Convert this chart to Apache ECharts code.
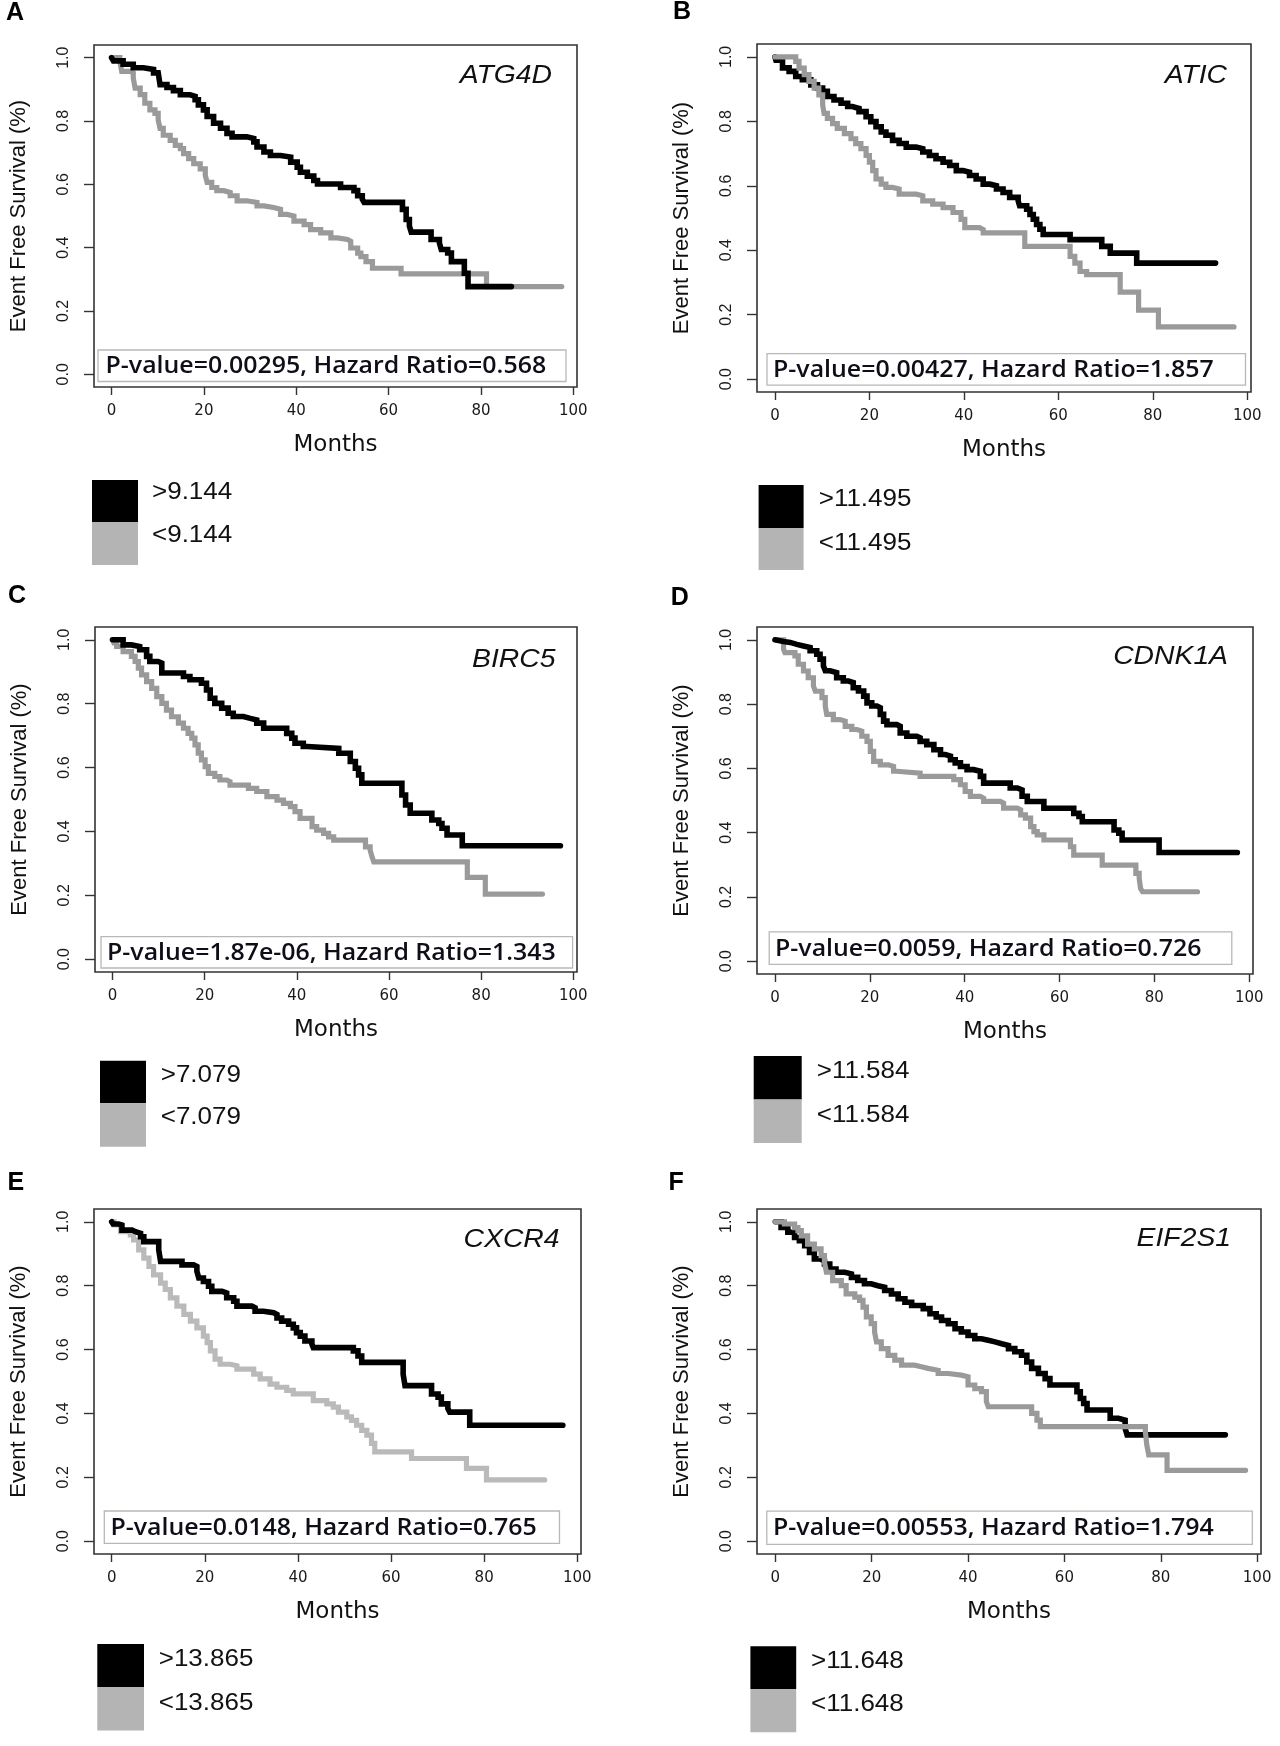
<!DOCTYPE html>
<html><head><meta charset="utf-8">
<script src="https://cdn.jsdelivr.net/npm/echarts@6/dist/echarts.min.js"></script>
<style>html,body{margin:0;padding:0;background:#fff}#chart{width:1280px;height:1746px}</style>
</head><body><div id="chart"></div>
<script>
// ---------------- data ----------------
const panelLetters = ['A', 'B', 'C', 'D', 'E', 'F'];
const genes = ['ATG4D', 'ATIC', 'BIRC5', 'CDNK1A', 'CXCR4', 'EIF2S1'];
const pValues = ['0.00295', '0.00427', '1.87e-06', '0.0059', '0.0148', '0.00553'];
const hazardRatios = ['0.568', '1.857', '1.343', '0.726', '0.765', '1.794'];
const cutoffs = ['9.144', '11.495', '7.079', '11.584', '13.865', '11.648'];
const monthTicks = [0, 20, 40, 60, 80, 100];
const survivalTicks = [0, 0.2, 0.4, 0.6, 0.8, 1.0];
const xLabel = 'Months';
const yLabel = 'Event Free Survival (%)';

const atg4dHigh = [[0,1],[0.4,0.99],[2.5,0.979],[4.7,0.968],[6.9,0.963],[9.1,0.952],[10.1,0.947],[10.5,0.915],[12,0.906],[13.4,0.896],[14.9,0.883],[17,0.878],[18.1,0.867],[18.8,0.851],[19.9,0.835],[20.7,0.814],[22.1,0.793],[23.6,0.777],[25,0.761],[26.1,0.75],[29.3,0.745],[30.8,0.734],[31.5,0.718],[33,0.702],[34.4,0.691],[36.6,0.686],[38.8,0.67],[40.2,0.654],[40.9,0.638],[42.4,0.626],[43.8,0.612],[44.6,0.601],[49.6,0.59],[52.5,0.58],[53.3,0.564],[54.3,0.553],[54.7,0.543],[63,0.521],[63.8,0.489],[64.5,0.468],[64.9,0.449],[69.2,0.426],[71,0.415],[71.4,0.394],[72.8,0.383],[73.6,0.356],[76.4,0.319],[77.2,0.277],[86.6,0.277]];
const atg4dLow = [[0,1],[1.8,0.989],[2.2,0.957],[4,0.952],[4.7,0.936],[5.1,0.904],[6.2,0.883],[7.2,0.856],[8.3,0.835],[9.4,0.824],[10.1,0.803],[10.5,0.777],[11.2,0.755],[12.7,0.739],[13.8,0.723],[14.9,0.713],[15.6,0.697],[16.7,0.681],[17.8,0.665],[19.2,0.649],[20.3,0.628],[20.7,0.606],[21.7,0.59],[22.8,0.58],[24.3,0.574],[25.7,0.564],[27.2,0.548],[29.3,0.543],[31.5,0.532],[33,0.527],[35.1,0.521],[36.6,0.505],[38,0.5],[39.5,0.484],[41.7,0.473],[43.1,0.457],[45.3,0.447],[47.5,0.431],[48.9,0.426],[51.1,0.42],[51.8,0.399],[53.3,0.383],[54,0.372],[55.1,0.356],[56.5,0.335],[62.7,0.317],[81.2,0.277],[97.5,0.277]];

const aticHigh = [[0,1],[0.2,0.99],[1.6,0.966],[3,0.955],[4.4,0.939],[5.8,0.929],[7.6,0.913],[9,0.903],[10.1,0.893],[11.1,0.877],[12.5,0.866],[14,0.856],[15.4,0.846],[16.4,0.84],[17.8,0.83],[19.3,0.814],[20.3,0.799],[21.4,0.783],[22.5,0.767],[23.5,0.757],[24.9,0.741],[26.3,0.731],[27.8,0.72],[29.9,0.715],[31.3,0.705],[32.7,0.694],[34.1,0.684],[35.6,0.673],[37,0.663],[38.4,0.647],[39.8,0.642],[41.2,0.632],[42.6,0.621],[44.1,0.605],[45.5,0.6],[46.9,0.59],[48.3,0.579],[49.7,0.564],[51.5,0.553],[51.8,0.538],[53.3,0.527],[54,0.511],[54.7,0.496],[55.4,0.48],[56.1,0.465],[56.8,0.449],[62.5,0.433],[69.2,0.412],[71,0.391],[76.6,0.36],[93.3,0.36]];
const aticLow = [[0,1],[4.4,0.986],[5.1,0.965],[6.2,0.945],[7.2,0.924],[8.3,0.903],[9.3,0.882],[10.1,0.851],[10.4,0.825],[11.1,0.809],[12.2,0.793],[13.2,0.778],[14.7,0.762],[16.1,0.746],[17.1,0.731],[18.2,0.715],[19.3,0.694],[20,0.673],[20.7,0.647],[21.4,0.621],[22.5,0.605],[23.5,0.595],[24.9,0.59],[26.3,0.574],[29.9,0.569],[31.3,0.553],[33.4,0.543],[35.6,0.532],[37.7,0.517],[39.4,0.496],[40.2,0.47],[43.3,0.464],[44.1,0.454],[52.9,0.412],[62.5,0.381],[63.5,0.36],[64.6,0.334],[66,0.324],[73.1,0.27],[77,0.214],[81.2,0.162],[97.2,0.162]];

const birc5High = [[0,1],[2.3,0.984],[4.1,0.979],[5.9,0.969],[7.4,0.948],[8.1,0.932],[9.9,0.927],[10.7,0.896],[15.4,0.885],[16.8,0.875],[19.3,0.864],[20.4,0.843],[21.2,0.817],[22.2,0.801],[23.7,0.786],[25.1,0.77],[26.2,0.76],[28.4,0.754],[29.9,0.749],[31.3,0.739],[32.8,0.723],[37.8,0.707],[38.9,0.692],[39.6,0.676],[41.4,0.666],[42.3,0.66],[49.1,0.645],[51.6,0.619],[52.7,0.598],[53.4,0.577],[54.1,0.551],[62.8,0.514],[63.6,0.483],[64.6,0.457],[69.3,0.436],[70.8,0.425],[71.5,0.41],[72.6,0.389],[75.9,0.355],[97.2,0.355]];
const birc5Low = [[0,1],[0.3,0.99],[0.9,0.979],[2.3,0.963],[4.1,0.948],[4.9,0.932],[5.6,0.911],[6.3,0.89],[7.4,0.869],[8.5,0.848],[9.6,0.822],[10.7,0.801],[11.7,0.78],[12.8,0.759],[14.3,0.739],[15.4,0.723],[16.4,0.707],[17.2,0.692],[17.9,0.671],[18.6,0.645],[19.3,0.624],[20.1,0.603],[20.8,0.582],[22.2,0.572],[23.3,0.561],[24.8,0.556],[25.5,0.545],[29.5,0.535],[31.3,0.525],[33.5,0.509],[35.7,0.498],[37.1,0.488],[38.6,0.478],[39.6,0.462],[40.7,0.441],[43.3,0.415],[44.3,0.404],[45.8,0.394],[46.9,0.383],[48,0.373],[54.9,0.352],[55.9,0.342],[56.3,0.321],[56.7,0.305],[77,0.256],[80.9,0.204],[93.3,0.204]];

const cdnk1aHigh = [[0,1],[0.3,0.995],[1.8,0.992],[3.2,0.986],[4.6,0.981],[6,0.976],[7.4,0.966],[8.8,0.955],[9.5,0.94],[10.2,0.919],[10.6,0.904],[11.6,0.898],[13,0.882],[14.4,0.872],[15.5,0.867],[16.5,0.851],[17.6,0.841],[18.7,0.825],[19.4,0.804],[20.4,0.794],[21.5,0.789],[22.2,0.768],[22.9,0.747],[23.6,0.736],[25.7,0.731],[26.4,0.71],[27.8,0.7],[29.9,0.695],[30.6,0.684],[32,0.674],[33.5,0.658],[34.9,0.643],[35.9,0.638],[37,0.627],[38,0.617],[39.1,0.606],[40.5,0.596],[41.9,0.591],[43.3,0.575],[44,0.554],[49.6,0.539],[51.1,0.533],[52.1,0.513],[53.2,0.497],[56.7,0.476],[63,0.46],[64.1,0.45],[64.8,0.434],[71.5,0.408],[72.5,0.398],[73.2,0.377],[81,0.338],[97.5,0.338]];
const cdnk1aLow = [[0,1],[1.8,0.971],[2.1,0.96],[4.2,0.95],[4.9,0.924],[6,0.903],[7,0.882],[8.1,0.856],[8.5,0.84],[9.9,0.82],[10.6,0.794],[10.9,0.768],[12.3,0.752],[13.7,0.747],[14.8,0.731],[16.2,0.721],[17.3,0.716],[18.3,0.7],[19.4,0.684],[20.1,0.653],[20.8,0.622],[22.2,0.611],[23.9,0.606],[25,0.591],[25.7,0.585],[30.6,0.575],[37.7,0.565],[39.1,0.549],[40.1,0.528],[41.2,0.513],[43.3,0.507],[44,0.497],[47.5,0.492],[48.2,0.476],[51.1,0.471],[51.8,0.455],[52.8,0.445],[53.9,0.419],[54.6,0.403],[55.3,0.393],[56.7,0.377],[62.3,0.356],[63,0.33],[69,0.299],[76.1,0.273],[76.8,0.257],[77.1,0.226],[77.5,0.216],[89.1,0.216]];

const cxcr4High = [[0,1],[0.3,0.993],[1.5,0.99],[2.2,0.974],[4.4,0.969],[5.1,0.964],[6.2,0.953],[6.9,0.938],[10.1,0.912],[10.5,0.876],[15.1,0.865],[17.6,0.86],[18.3,0.845],[18.7,0.824],[19.7,0.813],[20.8,0.798],[21.5,0.782],[23.7,0.777],[24.7,0.762],[26.2,0.751],[26.9,0.736],[30.1,0.731],[30.8,0.72],[32.6,0.715],[34.8,0.71],[35.5,0.699],[36.5,0.689],[38,0.679],[39,0.668],[39.7,0.653],[40.5,0.642],[41.5,0.627],[43,0.617],[43.3,0.606],[51.9,0.596],[52.9,0.58],[53.7,0.56],[62.6,0.523],[63,0.487],[68.7,0.461],[70.1,0.451],[70.8,0.43],[72.2,0.415],[72.6,0.404],[76.9,0.363],[96.9,0.363]];
const cxcr4Low = [[0,1],[0.5,0.99],[1.9,0.969],[4,0.959],[4.7,0.943],[5.8,0.912],[6.9,0.886],[8,0.86],[9,0.834],[10.5,0.808],[11.5,0.788],[12.6,0.762],[14,0.736],[15.5,0.71],[16.9,0.689],[18.3,0.668],[19.7,0.642],[20.5,0.622],[21.2,0.596],[22.2,0.57],[23.3,0.554],[25.5,0.549],[26.9,0.539],[30.5,0.523],[31.9,0.508],[34,0.492],[35.5,0.482],[37.6,0.472],[39,0.461],[43.3,0.44],[46.2,0.43],[47.6,0.42],[48.7,0.404],[50.5,0.389],[51.5,0.378],[52.6,0.363],[53.7,0.347],[54.8,0.332],[55.8,0.306],[56.5,0.28],[64.4,0.259],[76.2,0.228],[80.5,0.192],[93,0.192]];

const eif2s1High = [[0,1],[1.2,0.982],[2.6,0.967],[4,0.951],[5,0.941],[6.1,0.925],[7.1,0.904],[8.1,0.884],[9.2,0.878],[10.2,0.868],[11.3,0.852],[12.6,0.842],[14.4,0.837],[15.8,0.826],[17.1,0.816],[18.5,0.806],[19.9,0.8],[21.3,0.795],[22.7,0.785],[24.1,0.774],[25.5,0.759],[26.9,0.748],[28.3,0.738],[30.7,0.728],[32.1,0.712],[33.4,0.702],[34.5,0.691],[35.9,0.681],[37.3,0.665],[38.6,0.655],[40,0.644],[41.4,0.634],[42.8,0.629],[44.2,0.624],[45.6,0.618],[47,0.613],[48.4,0.603],[49.7,0.593],[51.1,0.582],[52.2,0.561],[53.2,0.541],[54.6,0.525],[56,0.509],[57,0.489],[62.6,0.468],[63.3,0.447],[64,0.431],[64.7,0.411],[69.5,0.385],[71.2,0.379],[72.6,0.353],[73,0.333],[93.4,0.333]];
const eif2s1Low = [[0,1],[1.9,0.993],[4,0.982],[4.7,0.972],[5.4,0.956],[6.7,0.93],[8.1,0.915],[9.5,0.894],[10.2,0.873],[10.6,0.842],[11.9,0.816],[13.7,0.8],[14.7,0.774],[16.5,0.764],[17.5,0.754],[18.2,0.733],[18.9,0.702],[19.9,0.681],[20.6,0.655],[21,0.624],[22,0.603],[23.4,0.582],[24.8,0.567],[26.2,0.551],[28.9,0.546],[30.3,0.541],[31.7,0.535],[33.8,0.525],[35.9,0.52],[38.6,0.515],[40,0.489],[41.4,0.478],[42.8,0.468],[43.8,0.437],[44.2,0.421],[53.2,0.4],[54.3,0.379],[55,0.359],[76.8,0.343],[77.1,0.301],[77.5,0.27],[81.3,0.222],[97.6,0.222]];

const highCurves = [atg4dHigh, aticHigh, birc5High, cdnk1aHigh, cxcr4High, eif2s1High];
const lowCurves = [atg4dLow, aticLow, birc5Low, cdnk1aLow, cxcr4Low, eif2s1Low];

// ---------------- layout (pixels) ----------------
const layout = [
  {grid:[94,45,483,342],  letter:[6,13],     gene:[552,76],     pbox:[98,350,468,31.5],    ptx:105.5, leg:[92,480,46,42,43],     ltx:152,   lty:[492.6,536],   low:'#9a9a9a', grayTop:false},
  {grid:[757,44,494,348], letter:[673,12],   gene:[1227,76],    pbox:[767,353.7,478.5,31.5], ptx:773, leg:[758.6,485,45,43,42],  ltx:818.7, lty:[500,543.7],   low:'#9a9a9a', grayTop:true},
  {grid:[95,627,482,345], letter:[8,596.5],  gene:[555.4,659.6],pbox:[101,936.7,471.6,31.3], ptx:107, leg:[100,1060.7,46,42.6,43.4], ltx:160.7, lty:[1075.6,1118], low:'#9a9a9a', grayTop:false},
  {grid:[757,627,496,347],letter:[670.7,598.5],gene:[1228,657], pbox:[769.2,931.9,462.6,32.5], ptx:775, leg:[753.7,1056,48,43.6,43.4], ltx:816.7, lty:[1071.9,1115.2], low:'#9a9a9a', grayTop:false},
  {grid:[94,1209,487,345],letter:[7.4,1183], gene:[559.5,1239.6],pbox:[104.3,1511,455.2,32.3], ptx:110.4, leg:[97.3,1644,46.7,43,43.4], ltx:158.7, lty:[1660,1703.3], low:'#bababa', grayTop:false},
  {grid:[757,1209,504,345],letter:[668.6,1183],gene:[1231,1238.9],pbox:[766.8,1511.1,485.5,33.3], ptx:773, leg:[750.4,1646.3,45.8,42.7,43.3], ltx:811, lty:[1661.9,1704.4], low:'#9a9a9a', grayTop:true}
];

const chart = echarts.init(document.getElementById('chart'), null, {renderer: 'canvas'});
const grids = [], xAxes = [], yAxes = [], series = [], graphics = [];

layout.forEach((L, i) => {
  grids.push({left: L.grid[0], top: L.grid[1], width: L.grid[2], height: L.grid[3],
    show: true, borderColor: '#333', borderWidth: 1.6, backgroundColor: 'transparent', containLabel: false});
  xAxes.push({type: 'value', gridIndex: i, min: -3.8, max: 100.8,
    name: xLabel, nameLocation: 'middle', nameGap: 47,
    nameTextStyle: {fontFamily: 'DejaVu Sans', fontSize: 23, color: '#111'},
    axisLine: {show: false, onZero: false}, splitLine: {show: false},
    axisTick: {show: true, length: 8, customValues: monthTicks, lineStyle: {color: '#333', width: 1.4}},
    axisLabel: {show: true, customValues: monthTicks, margin: 17, fontFamily: 'DejaVu Sans', fontSize: 15, color: '#1a1a1a'}});
  yAxes.push({type: 'value', gridIndex: i, min: -0.04, max: 1.04,
    name: yLabel, nameLocation: 'middle', nameRotate: 90, nameGap: 64,
    nameTextStyle: {fontFamily: 'Liberation Sans', fontSize: 22, color: '#111'},
    axisLine: {show: false, onZero: false}, splitLine: {show: false},
    axisTick: {show: true, length: 10, customValues: survivalTicks, lineStyle: {color: '#333', width: 1.4}},
    axisLabel: {show: true, customValues: survivalTicks, rotate: 90, margin: 22, fontFamily: 'Liberation Sans', fontSize: 16, color: '#1a1a1a',
      formatter: v => v.toFixed(1)}});
  series.push({type: 'line', name: '<' + cutoffs[i], xAxisIndex: i, yAxisIndex: i, data: lowCurves[i],
    step: 'end', symbol: 'none', showSymbol: false, silent: true, animation: false,
    z: L.grayTop ? 4 : 3, lineStyle: {color: L.low, width: 5.2, cap: 'round', join: 'miter'}});
  series.push({type: 'line', name: '>' + cutoffs[i], xAxisIndex: i, yAxisIndex: i, data: highCurves[i],
    step: 'end', symbol: 'none', showSymbol: false, silent: true, animation: false,
    z: L.grayTop ? 3 : 4, lineStyle: {color: '#000', width: 5.6, cap: 'round', join: 'miter'}});

  // panel letter
  graphics.push({type: 'text', x: L.letter[0], y: L.letter[1], z: 20,
    style: {text: panelLetters[i], font: 'bold 25px "Liberation Sans"', fill: '#000', align: 'left', verticalAlign: 'middle'}});
  // gene name
  graphics.push({type: 'text', x: L.gene[0], y: L.gene[1], z: 20, scaleX: 1.11,
    style: {text: genes[i], font: 'italic 25.5px "Liberation Sans"', fill: '#111', align: 'right', verticalAlign: 'middle'}});
  // p-value box
  graphics.push({type: 'rect', z: 20, shape: {x: L.pbox[0], y: L.pbox[1], width: L.pbox[2], height: L.pbox[3]},
    style: {fill: '#fff', stroke: '#b8b8b8', lineWidth: 1.3}});
  graphics.push({type: 'text', x: L.ptx, y: L.pbox[1] + L.pbox[3] / 2 + 1, z: 21, scaleX: 1.06,
    style: {text: 'P-value=' + pValues[i] + ', Hazard Ratio=' + hazardRatios[i], font: '600 23.5px "Open Sans"', fill: '#0e0e18', align: 'left', verticalAlign: 'middle'}});
  // legend
  graphics.push({type: 'rect', z: 20, shape: {x: L.leg[0], y: L.leg[1], width: L.leg[2], height: L.leg[3]}, style: {fill: '#000'}});
  graphics.push({type: 'rect', z: 20, shape: {x: L.leg[0], y: L.leg[1] + L.leg[3], width: L.leg[2], height: L.leg[4]}, style: {fill: '#b4b4b4'}});
  graphics.push({type: 'text', x: L.ltx, y: L.lty[0], z: 20, scaleX: 1.13,
    style: {text: '>' + cutoffs[i], font: '23px "Liberation Sans"', fill: '#111', align: 'left', verticalAlign: 'middle'}});
  graphics.push({type: 'text', x: L.ltx, y: L.lty[1], z: 20, scaleX: 1.13,
    style: {text: '<' + cutoffs[i], font: '23px "Liberation Sans"', fill: '#111', align: 'left', verticalAlign: 'middle'}});
});

chart.setOption({
  animation: false,
  backgroundColor: '#fff',
  grid: grids, xAxis: xAxes, yAxis: yAxes, series: series,
  graphic: {elements: graphics}
});
</script></body></html>
